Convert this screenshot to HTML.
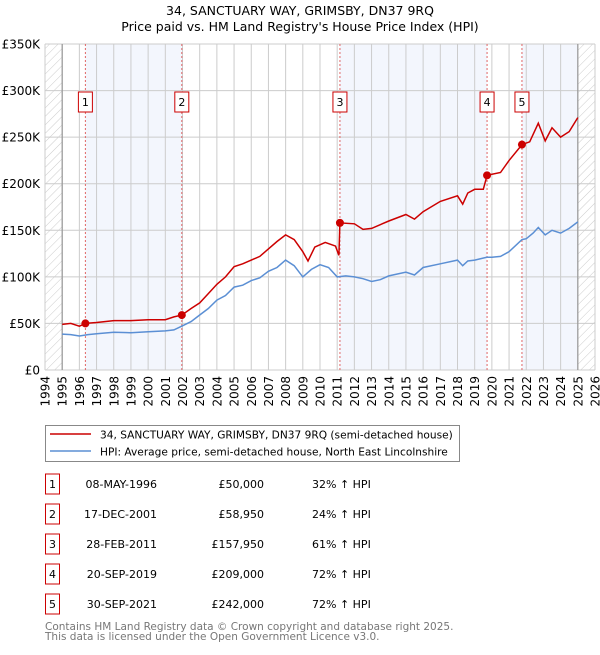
<!DOCTYPE html>
<html><head><meta charset="utf-8"><style>
body{margin:0;background:#fff;}
svg text{font-family:"DejaVu Sans","Liberation Sans",sans-serif;}
</style></head><body>
<svg id="chart" width="600" height="650" xmlns="http://www.w3.org/2000/svg">
<defs><pattern id="hatch" patternUnits="userSpaceOnUse" width="6" height="6" patternTransform="rotate(45)"><line x1="0" y1="0" x2="0" y2="6" stroke="#ccc" stroke-width="1"/></pattern></defs>
<text x="300" y="15" text-anchor="middle" font-size="12.5">34, SANCTUARY WAY, GRIMSBY, DN37 9RQ</text>
<text x="300" y="31" text-anchor="middle" font-size="12.5">Price paid vs. HM Land Registry's House Price Index (HPI)</text>
<g id="bg"></g><g id="grid"></g><g id="marks"></g><g id="axes"></g>
<rect x="45.5" y="425.5" width="414" height="36" fill="#fff" stroke="#888"/>
<line x1="50" y1="434" x2="91" y2="434" stroke="#cc0000" stroke-width="1.6"/>
<text x="100" y="438.5" font-size="10.6">34, SANCTUARY WAY, GRIMSBY, DN37 9RQ (semi-detached house)</text>
<line x1="50" y1="451" x2="91" y2="451" stroke="#5b8fd4" stroke-width="1.6"/>
<text x="100" y="455.5" font-size="10.6">HPI: Average price, semi-detached house, North East Lincolnshire</text>
<g id="table" font-size="11"></g>
<text x="45" y="630" font-size="10.5" fill="#777">Contains HM Land Registry data © Crown copyright and database right 2025.</text>
<text x="45" y="640" font-size="10.5" fill="#777">This data is licensed under the Open Government Licence v3.0.</text>
</svg>
<script>
const hpiYears=[1995,1995.5,1996,1996.5,1997,1998,1999,2000,2001,2001.5,2002,2002.5,2003,2003.5,2004,2004.5,2005,2005.5,2006,2006.5,2007,2007.5,2008,2008.5,2009,2009.5,2010,2010.5,2011,2011.5,2012,2012.5,2013,2013.5,2014,2015,2015.5,2016,2017,2018,2018.3,2018.6,2019,2019.7,2020,2020.5,2021,2021.75,2022,2022.4,2022.7,2023.1,2023.5,2024,2024.5,2025];
const hpiValues=[38.5,38,36.5,38,39,40.5,40,41,42,43,47.5,52,59,66,75,80,89,91,96,99,106,110,118,112,100,108,113,110,100,101,100,98,95,97,101,105,102,110,114,118,112,117,118,121,121,122,127,140,141,147,153,145,150,147,152,159];
const redYears=[1995,1995.5,1996,1996.35,1997,1998,1999,2000,2001,2001.5,2001.96,2002.5,2003,2003.5,2004,2004.5,2005,2005.5,2006,2006.5,2007,2007.5,2008,2008.5,2009,2009.3,2009.7,2010.3,2010.9,2011.1,2011.16,2012,2012.5,2013,2014,2015,2015.5,2016,2017,2018,2018.3,2018.6,2019,2019.5,2019.72,2020.5,2021,2021.75,2022.2,2022.7,2023.1,2023.5,2024,2024.5,2025];
const redValues=[49,50,47,50,51,53,53,54,54,57,58.95,66,72,82,92,100,111,114,118,122,130,138,145,140,127,117,132,137,133,123,157.95,157,151,152,160,167,162,170,181,187,178,190,194,194,209,212,225,242,245,265,246,260,250,256,271];
const sales=[1996.35,2001.96,2011.16,2019.72,2021.75];
const saleValues=[50,58.95,157.95,209,242];
const saleLabels=["1","2","3","4","5"];
const saleDates=["08-MAY-1996","17-DEC-2001","28-FEB-2011","20-SEP-2019","30-SEP-2021"];
const salePrices=["£50,000","£58,950","£157,950","£209,000","£242,000"];
const salePct=["32% ↑ HPI","24% ↑ HPI","61% ↑ HPI","72% ↑ HPI","72% ↑ HPI"];
const yTicks=[0,50,100,150,200,250,300,350];
const yTickLabels=["£0","£50K","£100K","£150K","£200K","£250K","£300K","£350K"];
const xTicks=[1994,1995,1996,1997,1998,1999,2000,2001,2002,2003,2004,2005,2006,2007,2008,2009,2010,2011,2012,2013,2014,2015,2016,2017,2018,2019,2020,2021,2022,2023,2024,2025,2026];

const L=45,R=595,T=44,B=370;
const x=y=>L+(y-1994)/32*(R-L);
const yv=v=>B-v/350*(B-T);
const NS="http://www.w3.org/2000/svg";
function mk(tag,attrs,parent){const e=document.createElementNS(NS,tag);for(const k in attrs)e.setAttribute(k,attrs[k]);document.getElementById(parent).appendChild(e);return e;}

let r;
r=mk('rect',{x:L,y:T,width:x(1995)-L,height:B-T,fill:'url(#hatch)'},'bg');


r=mk('rect',{x:x(2025),y:T,width:R-x(2025),height:B-T,fill:'url(#hatch)'},'bg');


const bands=[[sales[0],sales[1]],[sales[2],sales[3]],[sales[4],2025]];
bands.forEach((b,i)=>{
  const e=mk('rect',{x:x(b[0]),y:T,width:x(b[1])-x(b[0]),height:B-T,fill:'#f3f6fd'},'bg');
  
  
});
yTicks.forEach((v,i)=>{
  const g=mk('line',{x1:L,x2:R,y1:yv(v),y2:yv(v),stroke:'#ccc','stroke-width':1},'grid');
  
  
  const t=mk('text',{x:40,y:yv(v)+4.5,'text-anchor':'end','font-size':12},'axes');
  t.textContent=yTickLabels[i];
  
  
});
xTicks.forEach(v=>{
  const g=mk('line',{x1:x(v),x2:x(v),y1:T,y2:B,stroke:'#ccc','stroke-width':1},'grid');
  
  
  const t=mk('text',{x:0,y:0,'text-anchor':'end','font-size':12,transform:`translate(${x(v)+4.5},${B+6}) rotate(-90)`},'axes');
  t.textContent=v;
  
  
});
let b=mk('line',{x1:x(1995),x2:x(1995),y1:T,y2:B,stroke:'#999','stroke-width':1.2},'grid');


b=mk('line',{x1:x(2025),x2:x(2025),y1:T,y2:B,stroke:'#999','stroke-width':1.2},'grid');


sales.forEach((s,i)=>{
  const l=mk('line',{x1:x(s),x2:x(s),y1:T,y2:B,stroke:'#e06666','stroke-width':1,'stroke-dasharray':'2,2'},'marks');
  
  
  const bx=mk('rect',{x:x(s)-7,y:92,width:14,height:20,fill:'#fff',stroke:'#cc0000'},'marks');
  
  
  const t=mk('text',{x:x(s),y:106,'text-anchor':'middle','font-size':11},'marks');
  t.textContent=saleLabels[i];
  
  
});
const p1=mk('path',{d:hpiYears.map((v,i)=>(i?'L':'M')+x(v).toFixed(1)+','+yv(hpiValues[i]).toFixed(1)).join(''),fill:'none',stroke:'#5b8fd4','stroke-width':1.5},'marks');


const p2=mk('path',{d:redYears.map((v,i)=>(i?'L':'M')+x(v).toFixed(1)+','+yv(redValues[i]).toFixed(1)).join(''),fill:'none',stroke:'#cc0000','stroke-width':1.5},'marks');


sales.forEach((s,i)=>{
  const c=mk('circle',{cx:x(s),cy:yv(saleValues[i]),r:4,fill:'#cc0000'},'marks');
  
  
});
sales.forEach((s,i)=>{
  const cy=484+i*30;
  const bx=mk('rect',{x:45.5,y:cy-10,width:14,height:20,fill:'#fff',stroke:'#cc0000'},'table');
  
  
  let t=mk('text',{x:52.5,y:cy+4,'text-anchor':'middle'},'table');t.textContent=saleLabels[i];
  
  
  t=mk('text',{x:157,y:cy+4,'text-anchor':'end'},'table');t.textContent=saleDates[i];
  
  
  t=mk('text',{x:264,y:cy+4,'text-anchor':'end'},'table');t.textContent=salePrices[i];
  
  
  t=mk('text',{x:312,y:cy+4},'table');t.textContent=salePct[i];
  
  
});
</script>
</body></html>
